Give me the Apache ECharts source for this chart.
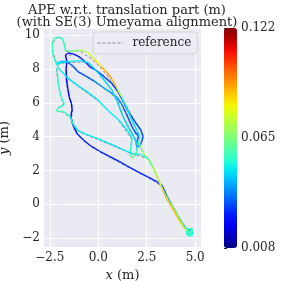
<!DOCTYPE html>
<html><head><meta charset="utf-8">
<script src="https://cdn.jsdelivr.net/npm/echarts@6/dist/echarts.min.js"></script>
<style>html,body{margin:0;padding:0;background:#fff}#c{width:281px;height:281px}</style>
</head><body><div id="c"></div>
<script>
// Estimated trajectory (x, y in m) and APE error (m) per pose
const trajX = [4.72,4.86,4.84,4.66,4.55,4.60,4.80,4.90,4.75,
 4.50,4.30,4.05,3.80,3.55,3.40,3.28,
 3.05,2.55,2.00,1.50,1.10,0.55,0.10,-0.35,-0.75,-1.08,-1.30,-1.42,-1.35,-1.38,-1.50,-1.58,-1.64,-1.66,-1.62,-1.70,
 -1.55,-1.25,-0.95,-0.69,
 -0.43,-0.15,0.30,0.69,1.03,1.30,1.55,1.88,2.20,2.32,2.20,2.00,
 1.95,2.08,1.80,1.60,1.45,1.20,0.95,0.60,0.20,-0.22,-0.70,-1.05,-1.32,-1.65,-1.95,-2.18,
 -1.95,-1.56,-0.95,-0.50,-0.10,0.30,0.70,1.00,1.25,1.55,1.88,2.02,
 1.98,1.88,1.74,1.64,
 1.68,1.75,1.55,1.05,0.50,0.00,-0.53,-1.05,-1.56,-2.05,
 -2.25,-2.38,-2.40,-2.28,-2.10,-1.90,-1.76,-1.70,
 -1.45,-0.95,-0.55,-0.20,0.12,0.45,0.70,0.95,1.18,1.42,1.65,1.95,2.15,2.08,
 2.30,2.55,2.78,2.98,3.12,3.30,3.50,3.75,4.00,4.25,4.48,4.68,
 4.88,4.82,4.62,4.60,4.78,4.62,
 4.40,4.15,3.90,3.62,3.40,3.20,3.00,2.80,2.58,
 2.20,1.80,1.25,0.80,0.26,-0.30,-0.65,-1.03,-1.29,-1.46,-1.80,-2.10,-2.15,-2.02,-1.75,-1.88,-2.00,-2.08,-2.12,-2.10];
const trajY = [-1.70,-1.62,-1.48,-1.47,-1.62,-1.85,-1.88,-1.72,-1.58,
 -1.40,-1.05,-0.55,-0.05,0.45,0.85,1.12,
 1.32,1.62,1.95,2.26,2.52,2.85,3.12,3.42,3.78,4.15,4.65,5.15,5.60,5.95,6.35,6.85,7.40,8.00,8.50,8.82,
 8.95,8.88,8.70,8.45,
 8.12,7.95,7.55,7.16,6.66,6.05,5.48,4.90,4.38,3.98,3.58,3.35,
 3.60,4.00,4.45,4.95,5.35,5.95,6.35,6.65,6.95,7.30,7.62,7.85,8.20,8.45,8.45,8.30,
 8.36,8.44,8.50,8.38,7.90,7.35,6.75,6.05,5.25,4.55,3.92,3.45,
 3.10,2.84,2.74,2.92,
 3.40,3.90,4.30,5.00,5.55,6.15,6.62,7.02,7.45,8.05,
 8.55,9.00,9.45,9.80,9.88,9.84,9.55,9.10,
 9.05,9.12,9.00,8.60,8.20,7.80,7.40,6.90,6.40,5.85,5.20,4.50,4.00,3.60,
 3.10,2.70,2.30,1.80,1.40,0.90,0.40,-0.10,-0.60,-1.10,-1.45,-1.65,
 -1.60,-1.42,-1.50,-1.78,-1.84,-1.55,
 -1.25,-0.75,-0.25,0.25,0.70,1.20,1.75,2.25,2.70,
 2.95,2.98,3.25,3.48,3.75,4.00,4.15,4.35,4.70,5.20,5.50,5.48,5.58,5.72,5.90,6.25,6.75,7.35,7.90,8.10];
const trajErr = [0.050,0.056,0.054,0.048,0.052,0.058,0.054,0.050,0.046,
 0.030,0.028,0.028,0.030,0.030,0.028,0.028,
 0.027,0.026,0.026,0.027,0.027,0.026,0.026,0.027,0.027,0.026,0.024,0.022,0.021,0.020,0.020,0.021,0.022,0.021,0.022,0.024,
 0.025,0.026,0.026,0.027,
 0.028,0.029,0.030,0.029,0.028,0.028,0.028,0.029,0.030,0.032,0.034,0.036,
 0.034,0.032,0.030,0.030,0.032,0.034,0.038,0.042,0.040,0.036,0.032,0.030,0.032,0.038,0.044,0.047,
 0.048,0.049,0.048,0.047,0.046,0.047,0.046,0.046,0.045,0.046,0.044,0.048,
 0.056,0.062,0.066,0.060,
 0.052,0.049,0.048,0.049,0.050,0.049,0.048,0.047,0.048,0.050,
 0.052,0.055,0.056,0.058,0.055,0.053,0.055,0.058,
 0.062,0.068,0.074,0.080,0.086,0.092,0.096,0.082,0.060,0.050,0.047,0.048,0.050,0.060,
 0.070,0.075,0.080,0.084,0.090,0.096,0.094,0.090,0.086,0.088,0.082,0.066,
 0.056,0.054,0.052,0.050,0.052,0.054,
 0.062,0.068,0.070,0.068,0.072,0.076,0.070,0.064,0.056,
 0.050,0.049,0.048,0.047,0.048,0.049,0.048,0.049,0.051,0.053,0.056,0.060,0.058,0.055,0.052,0.053,0.055,0.053,0.052,0.052];
// Reference (ground truth) trajectory
const refX = [4.74,4.84,4.80,4.62,4.56,4.72,4.86,
 4.45,4.05,3.60,3.30,
 2.55,1.50,0.55,-0.35,-1.05,-1.38,-1.32,-1.48,-1.62,-1.64,-1.68,
 -1.25,-0.72,-0.15,0.70,1.30,1.88,2.24,2.26,2.00,
 2.02,1.60,1.20,0.60,-0.22,-1.05,-1.62,-2.15,
 -1.56,-0.55,-0.05,0.70,1.25,1.85,2.02,1.96,1.76,1.64,
 1.72,1.05,0.00,-1.05,-2.05,
 -2.34,-2.36,-2.14,-1.86,-1.72,-1.66,
 -1.00,-0.30,0.40,0.90,1.40,1.92,2.12,2.06,
 2.40,2.80,3.15,3.55,4.05,4.50,4.72,
 4.86,4.62,4.66,
 4.15,3.65,3.22,2.82,2.55,
 1.80,0.80,-0.30,-1.05,-1.45,-1.82,-2.12,-2.02,-1.80,-1.95,-2.08,-2.16,-2.12];
const refY = [-1.72,-1.60,-1.47,-1.50,-1.70,-1.86,-1.74,
 -1.38,-0.60,0.35,1.05,
 1.60,2.22,2.80,3.38,4.10,5.10,5.62,6.35,7.40,8.30,8.80,
 8.85,8.48,7.98,7.20,6.10,4.95,4.30,3.70,3.38,
 3.95,4.92,5.90,6.62,7.25,7.82,8.42,8.28,
 8.40,8.40,7.85,6.78,5.30,3.98,3.40,3.05,2.76,2.95,
 3.85,4.95,6.10,6.98,8.02,
 9.00,9.50,9.86,9.80,9.30,9.05,
 9.08,8.58,7.72,6.85,5.80,4.48,3.95,3.55,
 2.95,2.25,1.30,0.30,-0.70,-1.45,-1.68,
 -1.52,-1.52,-1.82,
 -0.78,0.20,1.15,2.22,2.72,
 2.95,3.44,3.96,4.32,5.12,5.46,5.50,5.74,5.92,6.40,7.20,7.95,8.12];
const errMin = 0.008, errMax = 0.122, errMid = 0.065;
const xTicks = [-2.5, 0, 2.5, 5];
const yTicks = [-2, 0, 2, 4, 6, 8, 10];
const cbTicks = [errMin, errMid, errMax];

function interp(t, xs, ys){
  for (let i=1;i<xs.length;i++){ if (t<=xs[i]){ const f=(t-xs[i-1])/(xs[i]-xs[i-1]); return ys[i-1]+f*(ys[i]-ys[i-1]); } }
  return ys[ys.length-1];
}
function jet(t){
  t=Math.max(0,Math.min(1,t));
  const r=interp(t,[0,0.35,0.66,0.89,1],[0,0,1,1,0.5]);
  const g=interp(t,[0,0.125,0.375,0.64,0.91,1],[0,0,1,1,0,0]);
  const b=interp(t,[0,0.11,0.34,0.65,1],[0.5,1,1,0,0]);
  return 'rgb('+Math.round(r*255)+','+Math.round(g*255)+','+Math.round(b*255)+')';
}
const jetStops=[]; for(let i=0;i<=20;i++) jetStops.push(jet(i/20));
const segs=[];
for(let i=0;i<trajX.length-1;i++){
  const v=(trajErr[i]+trajErr[i+1])/2;
  segs.push({coords:[[trajX[i],trajY[i]],[trajX[i+1],trajY[i+1]]], value:v,
    lineStyle:{color:jet((v-errMin)/(errMax-errMin))}});
}
const refData = refX.map((x,i)=>[x,refY[i]]);
const FONT='DejaVu Serif';
const TXT='#262626';
function fmtMinus(v,d){ const s=Math.abs(v).toFixed(d); return (v<0?'\u2212':'')+s; }
const chart=echarts.init(document.getElementById('c'),null,{renderer:'canvas'});
chart.setOption({
  animation:false,
  backgroundColor:'#ffffff',
  title:{text:'APE w.r.t. translation part (m)\n(with SE(3) Umeyama alignment)',left:122,top:-1,textAlign:'center',
    textStyle:{fontFamily:FONT,fontSize:13,fontWeight:'normal',color:TXT,lineHeight:12.5}},
  legend:{data:[{name:'reference'}],left:93,top:32,padding:[5,6,5,4],itemWidth:26,itemHeight:10,
    itemStyle:{opacity:0},lineStyle:{type:[3,2],width:1,color:'#8a8a8a'},
    backgroundColor:'rgba(236,236,244,0.85)',borderColor:'#d4d4d4',borderWidth:1,borderRadius:3,
    textStyle:{fontFamily:FONT,fontSize:12,color:TXT,padding:[0,0,0,4]}},
  grid:[{left:44,top:29,width:157,height:218,show:true,backgroundColor:'#EAEAF2',borderWidth:0,outerBoundsMode:'none',containLabel:false},
        {left:224,top:28,width:13,height:220,show:false,outerBoundsMode:'none',containLabel:false}],
  xAxis:[{type:'value',gridIndex:0,min:-2.8,max:5.3,
      axisLine:{show:false},axisTick:{show:false,customValues:xTicks},
      splitLine:{show:true,lineStyle:{color:'#ffffff',width:1}},
      axisLabel:{customValues:xTicks,margin:5,fontFamily:FONT,fontSize:12,color:TXT,formatter:v=>fmtMinus(v,1)},
      name:'{i|x} (m)',nameLocation:'middle',nameGap:15,
      nameTextStyle:{fontFamily:FONT,fontSize:13,color:TXT,rich:{i:{fontFamily:FONT,fontSize:13,fontStyle:'italic',color:TXT}}}},
    {type:'value',gridIndex:1,min:0,max:1,show:false}],
  yAxis:[{type:'value',gridIndex:0,min:-2.53,max:10.37,
      axisLine:{show:false},axisTick:{show:false,customValues:yTicks},
      splitLine:{show:true,lineStyle:{color:'#ffffff',width:1}},
      axisLabel:{customValues:yTicks,margin:4,fontFamily:FONT,fontSize:12,color:TXT,formatter:v=>fmtMinus(v,0)},
      name:'{i|y} (m)',nameLocation:'middle',nameGap:25,nameRotate:90,
      nameTextStyle:{fontFamily:FONT,fontSize:13,color:TXT,rich:{i:{fontFamily:FONT,fontSize:13,fontStyle:'italic',color:TXT}}}},
    {type:'value',gridIndex:1,min:errMin,max:errMax,position:'right',
      axisLine:{show:false},splitLine:{show:false},
      axisTick:{show:true,length:3,customValues:cbTicks,lineStyle:{color:TXT,width:1}},
      axisLabel:{customValues:cbTicks,margin:4,fontFamily:FONT,fontSize:12,color:TXT,formatter:v=>v.toFixed(3)}}],
  visualMap:{type:'continuous',min:errMin,max:errMax,left:224,top:28,itemWidth:13,itemHeight:220,padding:0,
    calculable:false,realtime:false,text:null,showLabel:false,seriesIndex:2,inRange:{color:jetStops},hoverLink:false},
  series:[
    {type:'line',name:'reference',xAxisIndex:0,yAxisIndex:0,data:refData,symbol:'none',showSymbol:false,
      lineStyle:{color:'#8a8a8a',width:1,type:[3,2]},itemStyle:{color:'#8a8a8a'},z:2,silent:true},
    {type:'lines',coordinateSystem:'cartesian2d',xAxisIndex:0,yAxisIndex:0,polyline:false,data:segs,
      lineStyle:{width:1.4,opacity:1},z:3,silent:true},
    {type:'scatter',xAxisIndex:1,yAxisIndex:1,data:[],silent:true}
  ]
});
</script></body></html>
